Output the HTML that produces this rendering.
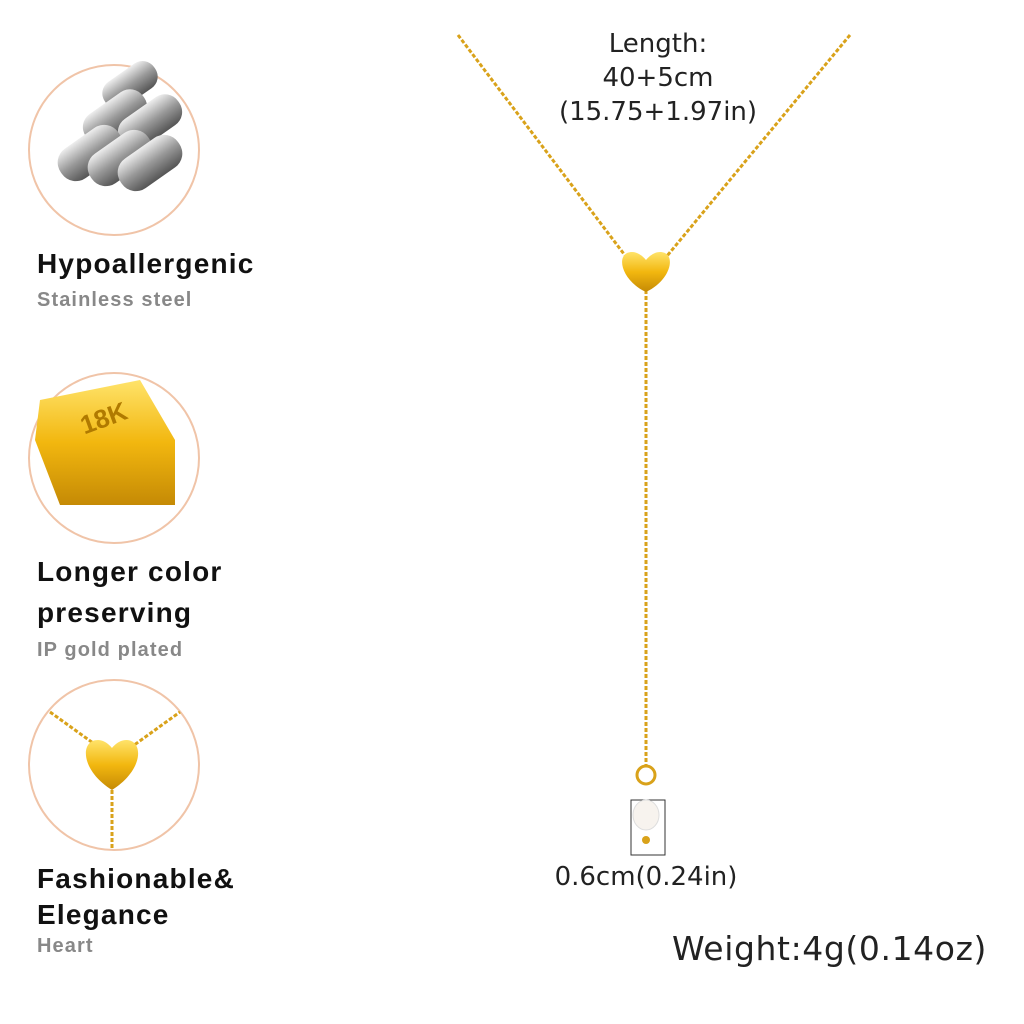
<!DOCTYPE html>
<html><head><meta charset="utf-8"><style>
body{margin:0;width:1024px;height:1024px;background:#fff;position:relative;overflow:hidden;font-family:"Liberation Sans",sans-serif}
.t{position:absolute;white-space:nowrap}
.b{font-weight:bold;font-size:28px;color:#111;letter-spacing:1.2px}
.g{font-weight:bold;font-size:20px;color:#888;letter-spacing:1.1px}
.n{font-family:"DejaVu Sans",sans-serif;font-size:26px;color:#222;text-align:center}
</style></head><body>
<svg width="1024" height="1024" style="position:absolute;left:0;top:0">
<defs>
<linearGradient id="gold" x1="0" y1="0" x2="0" y2="1"><stop offset="0" stop-color="#ffe36a"/><stop offset="0.5" stop-color="#f2b70f"/><stop offset="1" stop-color="#c58a05"/></linearGradient>
<linearGradient id="steel" x1="0" y1="0" x2="0" y2="1"><stop offset="0" stop-color="#eee"/><stop offset="0.5" stop-color="#999"/><stop offset="1" stop-color="#555"/></linearGradient>
</defs>
<circle cx="114" cy="150" r="85" fill="#fff" stroke="#f0c4a8" stroke-width="2"/>
<circle cx="114" cy="458" r="85" fill="#fff" stroke="#f0c4a8" stroke-width="2"/>
<circle cx="114" cy="765" r="85" fill="#fff" stroke="#f0c4a8" stroke-width="2"/>
<g fill="url(#steel)">
<rect x="100" y="70" width="60" height="30" rx="14" transform="rotate(-35 130 85)"/>
<rect x="80" y="100" width="70" height="34" rx="16" transform="rotate(-35 115 117)"/>
<rect x="115" y="105" width="70" height="34" rx="16" transform="rotate(-35 150 122)"/>
<rect x="55" y="135" width="70" height="36" rx="17" transform="rotate(-35 90 153)"/>
<rect x="85" y="140" width="70" height="36" rx="17" transform="rotate(-35 120 158)"/>
<rect x="115" y="145" width="70" height="36" rx="17" transform="rotate(-35 150 163)"/>
</g>
<polygon points="40,400 140,380 175,440 175,505 60,505 35,440" fill="url(#gold)"/>
<text x="80" y="430" font-family="Liberation Sans" font-weight="bold" font-size="26" fill="#b07a00" transform="rotate(-20 95 420)">18K</text>
<g stroke="#d9a21a" stroke-width="3" stroke-dasharray="4 2" fill="none">
<line x1="50" y1="712" x2="100" y2="748"/><line x1="130" y1="748" x2="180" y2="712"/><line x1="112" y1="778" x2="112" y2="850"/>
<line x1="458" y1="35" x2="630" y2="262"/><line x1="850" y1="35" x2="662" y2="262"/><line x1="646" y1="290" x2="646" y2="765"/>
</g>
<path d="M112 790 C80 770 80 740 98 740 C106 740 112 748 112 748 C112 748 118 740 126 740 C144 740 144 770 112 790Z" fill="url(#gold)"/>
<path d="M646 292 C620 280 615 252 632 252 C640 252 646 260 646 260 C646 260 652 252 660 252 C677 252 672 280 646 292Z" fill="url(#gold)"/>
<circle cx="646" cy="775" r="9" fill="none" stroke="#d9a21a" stroke-width="3"/>
<rect x="631" y="800" width="34" height="55" fill="none" stroke="#333" stroke-width="1"/>
<ellipse cx="646" cy="815" rx="13" ry="15" fill="#f7f3ee" stroke="#ddd"/>
<circle cx="646" cy="840" r="4" fill="#d9a21a"/>
</svg>
<div class="t b" style="left:37px;top:248px">Hypoallergenic</div>
<div class="t g" style="left:37px;top:289px">Stainless steel</div>
<div class="t b" style="left:37px;top:556px">Longer color</div>
<div class="t b" style="left:37px;top:597px">preserving</div>
<div class="t g" style="left:37px;top:639px">IP gold plated</div>
<div class="t b" style="left:37px;top:863px">Fashionable&amp;</div>
<div class="t b" style="left:37px;top:899px">Elegance</div>
<div class="t g" style="left:37px;top:935px">Heart</div>
<div class="t n" style="left:500px;width:316px;top:27px;line-height:34px">Length:<br>40+5cm<br>(15.75+1.97in)</div>
<div class="t n" style="left:496px;width:300px;top:862px">0.6cm(0.24in)</div>
<div class="t" style="left:672px;top:929px;font-family:'DejaVu Sans',sans-serif;font-size:33px;letter-spacing:0.6px;color:#222">Weight:4g(0.14oz)</div>
</body></html>
